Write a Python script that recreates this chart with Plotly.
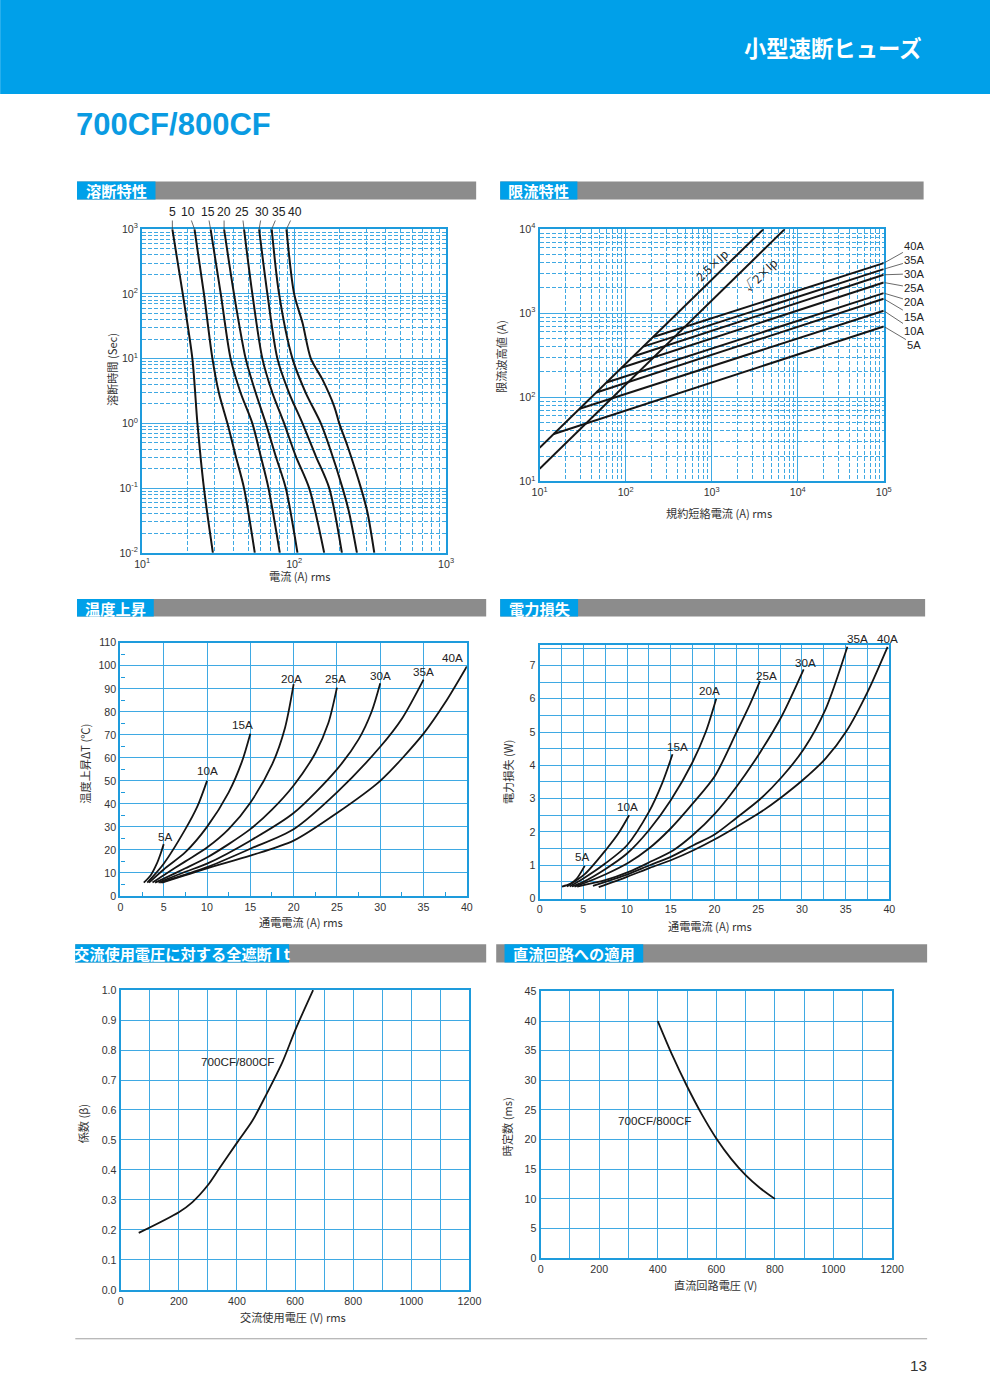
import numpy as np
import plotly.graph_objects as go

# Page pixels below are measured on the 990x1400 reference.  Measured on the
# previous photographs, the figure shows up shifted by the 8px body margin and
# scaled by about 0.978 x 0.991, so positions are converted through that map.
PAGE_W, PAGE_H = 990, 1400
OFF = 8
SX, SY = 0.978, 0.991
FS = 1.0 / 0.985          # font compensation for the photo scaling
W = int(round(PAGE_W / SX - OFF))
H = int(round(PAGE_H / SY - OFF))

BLUE = "#00A0E9"
GRID = "#3FA9E3"
FRAME = "#1E9BDC"
GRAY = "#8C8C8C"
TXT = "#333333"
CURVE = "#151515"
NUMFONT = "Liberation Sans, Arial, Noto Sans CJK JP, sans-serif"
JPFONT = "Noto Sans CJK JP, sans-serif"

# ---------------- data: 溶断特性 (melting time vs current) ----------------
melt_labels = ["5", "10", "15", "20", "25", "30", "35", "40"]
melt_5_t = [1000, 100, 10, 1, 0.1, 0.01]
melt_5_i = [15.8, 18.5, 21.4, 23.1, 25.5, 29.2]
melt_10_t = [1000, 100, 10, 2.94, 1, 0.31, 0.1, 0.01]
melt_10_i = [22.1, 25.5, 29.0, 32.0, 36.4, 41.3, 46.8, 55.1]
melt_15_t = [1000, 100, 10, 2.94, 1, 0.31, 0.1, 0.01]
melt_15_i = [28.2, 32.9, 38.2, 44.5, 53.1, 60.3, 67.8, 80.5]
melt_20_t = [1000, 100, 10, 2.94, 1, 0.31, 0.1, 0.01]
melt_20_i = [34.6, 40.2, 48.0, 55.9, 65.1, 75.7, 88.1, 105.2]
melt_25_t = [1000, 100, 10, 2.94, 1, 0.31, 0.1, 0.01]
melt_25_i = [46.8, 53.1, 61.8, 72.0, 85.9, 102.6, 125.6, 157.7]
melt_30_t = [1000, 100, 10, 2.94, 1, 0.31, 0.1, 0.01]
melt_30_i = [58.8, 66.7, 77.6, 92.7, 113.5, 139.0, 170.2, 206.2]
melt_35_t = [1000, 100, 10, 2.94, 1, 0.443, 0.1, 0.041, 0.01]
melt_35_i = [71.2, 79.6, 97.5, 119.4, 149.9, 170.2, 208.3, 230.5, 259.0]
melt_40_t = [1000, 100, 35.8, 10, 4.73, 1.83, 1, 0.443, 0.1, 0.041, 0.01]
melt_40_i = [89.0, 100, 113.5, 128.8, 153.8, 183.5, 198.1, 224.7, 275.3, 304.5, 336.9]
melt_label_dx = [0, -6, -3, 0, -2, 3, 7, 8]

# ---------------- data: 限流特性 (let-through peak) ----------------
ip25_i = [10, 4000]
ip25_peak = [25, 10000]
ipr2_i = [10, 7071]
ipr2_peak = [14.1, 10000]
lim_labels = ["5A", "10A", "15A", "20A", "25A", "30A", "35A", "40A"]
lim_start_i = [14.6, 29.2, 45.7, 59.8, 89.4, 122.2, 159.9, 209.0]
lim_start_peak = [36.5, 73, 114, 150, 224, 306, 400, 522]
lim_end_i = 100000
lim_end_peak = [696, 1069, 1485, 1734, 2321, 2864, 3344, 3942]
lim_label_dy = [18, 20, 18, 9, 5.5, -1, -9, -17]

# ---------------- data: 温度上昇 ----------------
temp_labels = ["5A", "10A", "15A", "20A", "25A", "30A", "35A", "40A"]
temp_x = [
    [2.7, 3.5, 4.2, 4.7, 5.0],
    [3.1, 5.0, 7.5, 8.9, 10.0],
    [3.3, 5.0, 7.5, 10.0, 12.5, 14.0, 15.0],
    [3.7, 5.0, 7.5, 10.0, 12.5, 15.0, 17.5, 19.0, 20.0],
    [4.0, 5.0, 7.5, 10.0, 12.5, 15.0, 17.5, 20.0, 22.5, 24.0, 25.0],
    [4.4, 7.5, 10.0, 15.0, 20.0, 25.0, 27.5, 29.0, 30.0],
    [4.6, 10.0, 15.0, 20.0, 25.0, 30.0, 32.5, 35.0],
    [4.8, 10.0, 15.0, 20.0, 25.0, 30.0, 35.0, 37.5, 40.0],
]
temp_y = [
    [5.8, 9.0, 14.0, 19.0, 22.5],
    [5.8, 14.0, 29.0, 39.0, 50.0],
    [5.8, 11.5, 19.0, 30.0, 45.0, 58.0, 70.5],
    [5.8, 9.0, 15.0, 21.0, 29.0, 40.5, 57.0, 73.0, 92.0],
    [5.8, 7.5, 12.0, 16.7, 22.5, 29.0, 37.5, 48.0, 62.0, 75.0, 90.5],
    [5.8, 10.5, 14.0, 24.0, 36.0, 55.0, 68.0, 80.0, 92.4],
    [5.8, 12.5, 20.5, 29.0, 45.0, 64.8, 77.0, 94.0],
    [5.8, 12.0, 17.5, 24.0, 36.0, 50.0, 70.5, 84.0, 99.7],
]
temp_lab_x = [5.2, 10.0, 14.1, 19.8, 24.8, 30.0, 35.0, 38.3]
temp_lab_y = [25.6, 54.7, 74.5, 94.6, 94.3, 95.8, 97.3, 103.4]

# ---------------- data: 電力損失 ----------------
loss_labels = ["5A", "10A", "15A", "20A", "25A", "30A", "35A", "40A"]
loss_x = [
    [2.56, 3.5, 4.2, 5.16],
    [3.13, 5.16, 7.64, 9.0, 10.24],
    [3.44, 5.0, 7.5, 10.0, 12.5, 14.0, 15.2],
    [3.7, 5.0, 7.5, 10.0, 12.5, 15.0, 17.5, 19.0, 20.2],
    [4.0, 5.0, 7.5, 10.2, 12.5, 14.9, 17.6, 20.05, 22.5, 24.0, 25.2],
    [4.3, 7.5, 10.2, 12.5, 15.3, 17.5, 20.05, 22.5, 25.2, 27.7, 30.2],
    [6.1, 10.0, 12.6, 15.0, 17.6, 20.05, 22.5, 25.2, 27.7, 30.2, 32.7, 35.2],
    [6.76, 10.0, 12.6, 15.0, 17.6, 20.05, 22.5, 25.2, 27.7, 30.2, 32.7, 35.1, 37.5, 39.8],
]
loss_y = [
    [0.36, 0.44, 0.58, 0.98],
    [0.36, 0.73, 1.48, 1.95, 2.5],
    [0.36, 0.6, 1.05, 1.6, 2.6, 3.45, 4.33],
    [0.36, 0.5, 0.88, 1.35, 2.05, 2.95, 4.1, 5.0, 6.0],
    [0.36, 0.45, 0.72, 1.08, 1.5, 2.08, 2.88, 3.68, 4.98, 5.8, 6.53],
    [0.36, 0.55, 0.8, 1.08, 1.45, 1.9, 2.55, 3.35, 4.38, 5.48, 6.88],
    [0.38, 0.72, 1.0, 1.25, 1.6, 1.93, 2.42, 2.98, 3.65, 4.48, 5.68, 7.56],
    [0.34, 0.65, 0.92, 1.15, 1.45, 1.78, 2.15, 2.58, 3.05, 3.58, 4.2, 5.03, 6.2, 7.56],
]
loss_lab_x = [4.9, 10.05, 15.8, 19.4, 25.9, 30.4, 36.4, 39.8]
loss_lab_y = [1.26, 2.77, 4.56, 6.26, 6.7, 7.1, 7.82, 7.82]

# ---------------- data: 交流使用電圧に対する全遮断 I t ----------------
ac_v = [62, 200, 246, 303, 338, 401, 453, 499, 556, 602, 662]
ac_beta = [0.19, 0.259, 0.292, 0.353, 0.403, 0.492, 0.564, 0.648, 0.759, 0.870, 1.0]

# ---------------- data: 直流回路への適用 ----------------
dc_v = [400, 450, 500, 550, 600, 650, 700, 750, 800]
dc_tau = [40, 34.2, 29.0, 24.3, 20.2, 16.8, 14.0, 11.8, 10.0]


# ---------------- helpers (page pixels -> paper fractions) ----------------
def px(x):
    return (x / SX - OFF) / W


def py(y):
    return 1 - (y / SY - OFF) / H


def dom(x0, x1, y0, y1):
    return [px(x0), px(x1)], [py(y1), py(y0)]


def fs(size):
    return round(size * FS, 2)


tickfont = dict(family=NUMFONT, size=fs(10.5), color=TXT)


def base_axis(domain, anchor):
    return dict(domain=domain, anchor=anchor, showline=True, mirror=True,
                linecolor=FRAME, linewidth=2.2, showgrid=True, gridcolor=GRID,
                gridwidth=1, zeroline=False, ticks="", tickfont=tickfont,
                fixedrange=True)


fig = go.Figure()

# ---- chart 1 traces ----
melt_t = [melt_5_t, melt_10_t, melt_15_t, melt_20_t, melt_25_t, melt_30_t, melt_35_t, melt_40_t]
melt_i = [melt_5_i, melt_10_i, melt_15_i, melt_20_i, melt_25_i, melt_30_i, melt_35_i, melt_40_i]
for ii, tt in zip(melt_i, melt_t):
    fig.add_trace(go.Scatter(x=ii, y=tt, xaxis="x", yaxis="y", mode="lines",
                             line=dict(color=CURVE, width=2, shape="spline", smoothing=0.8),
                             showlegend=False, hoverinfo="skip"))

# ---- chart 2 traces ----
fig.add_trace(go.Scatter(x=ip25_i, y=ip25_peak, xaxis="x2", yaxis="y2", mode="lines",
                         line=dict(color=CURVE, width=2), showlegend=False, hoverinfo="skip"))
fig.add_trace(go.Scatter(x=ipr2_i, y=ipr2_peak, xaxis="x2", yaxis="y2", mode="lines",
                         line=dict(color=CURVE, width=2), showlegend=False, hoverinfo="skip"))
for si, sp, ep in zip(lim_start_i, lim_start_peak, lim_end_peak):
    fig.add_trace(go.Scatter(x=[si, lim_end_i], y=[sp, ep], xaxis="x2", yaxis="y2", mode="lines",
                             line=dict(color=CURVE, width=2), showlegend=False, hoverinfo="skip"))

# ---- chart 3 traces ----
for xs, ys in zip(temp_x, temp_y):
    fig.add_trace(go.Scatter(x=xs, y=ys, xaxis="x3", yaxis="y3", mode="lines",
                             line=dict(color=CURVE, width=1.8, shape="spline", smoothing=0.8),
                             showlegend=False, hoverinfo="skip"))

# ---- chart 4 traces ----
for xs, ys in zip(loss_x, loss_y):
    fig.add_trace(go.Scatter(x=xs, y=ys, xaxis="x4", yaxis="y4", mode="lines",
                             line=dict(color=CURVE, width=1.8, shape="spline", smoothing=0.8),
                             showlegend=False, hoverinfo="skip"))

# ---- chart 5/6 traces ----
fig.add_trace(go.Scatter(x=ac_v, y=ac_beta, xaxis="x5", yaxis="y5", mode="lines",
                         line=dict(color=CURVE, width=1.8, shape="spline", smoothing=0.8),
                         showlegend=False, hoverinfo="skip"))
fig.add_trace(go.Scatter(x=dc_v, y=dc_tau, xaxis="x6", yaxis="y6", mode="lines",
                         line=dict(color=CURVE, width=1.8, shape="spline", smoothing=0.8),
                         showlegend=False, hoverinfo="skip"))

# ---------------- axes ----------------
d1x, d1y = dom(141.7, 445, 229.3, 553.3)
d2x, d2y = dom(538.3, 881.7, 229.3, 481.7)
d3x, d3y = dom(120, 465.7, 643.3, 896.7)
d4x, d4y = dom(538.3, 887.3, 646, 899.3)
d5x, d5y = dom(120.3, 468.3, 991, 1291)
d6x, d6y = dom(539.3, 890, 992.3, 1259.3)

sup = lambda e: "10<sup>%s</sup>" % e
minor_dash = dict(showgrid=True, gridcolor=GRID, griddash="4px,2px", gridwidth=1, ticks="")

x1_minor = [m * 10 ** d for d in (1, 2) for m in range(2, 10)]
y1_minor = [m * 10.0 ** d for d in (-2, -1, 0, 1, 2) for m in range(2, 10)]
x2_minor = [m * 10 ** d for d in (1, 2, 3, 4) for m in range(2, 10)]
y2_minor = [m * 10 ** d for d in (1, 2, 3) for m in range(2, 10)]

ax1x = base_axis(d1x, "y")
ax1x.update(type="log", range=[1, 3], tickmode="array", tickvals=[10, 100, 1000],
            ticktext=[sup(1), sup(2), sup(3)],
            minor=dict(tickmode="array", tickvals=x1_minor, **minor_dash))
ax1y = base_axis(d1y, "x")
ax1y.update(type="log", range=[-2, 3], tickmode="array",
            tickvals=[0.01, 0.1, 1, 10, 100, 1000],
            ticktext=[sup("-2"), sup("-1"), sup(0), sup(1), sup(2), sup(3)],
            minor=dict(tickmode="array", tickvals=y1_minor, **minor_dash))

ax2x = base_axis(d2x, "y2")
ax2x.update(type="log", range=[1, 5], tickmode="array", tickvals=[10, 100, 1000, 1e4, 1e5],
            ticktext=[sup(1), sup(2), sup(3), sup(4), sup(5)],
            minor=dict(tickmode="array", tickvals=x2_minor, **minor_dash))
ax2y = base_axis(d2y, "x2")
ax2y.update(type="log", range=[1, 4], tickmode="array", tickvals=[10, 100, 1000, 1e4],
            ticktext=[sup(1), sup(2), sup(3), sup(4)],
            minor=dict(tickmode="array", tickvals=y2_minor, **minor_dash))

ax3x = base_axis(d3x, "y3")
ax3x.update(range=[0, 40], tick0=0, dtick=5,
            minor=dict(dtick=2.5, ticks="inside", ticklen=4, tickcolor=FRAME, tickwidth=1.2, showgrid=False))
ax3y = base_axis(d3y, "x3")
ax3y.update(range=[0, 110], tick0=0, dtick=10,
            minor=dict(dtick=5, ticks="inside", ticklen=4, tickcolor=FRAME, tickwidth=1.2, showgrid=False))

minor_solid = lambda d: dict(dtick=d, showgrid=True, gridcolor=GRID, gridwidth=1, ticks="")
ax4x = base_axis(d4x, "y4")
ax4x.update(range=[0, 40], tick0=0, dtick=5, minor=minor_solid(2.5))
ax4y = base_axis(d4y, "x4")
ax4y.update(range=[0, 7.6], tick0=0, dtick=1, minor=minor_solid(0.5))

ax5x = base_axis(d5x, "y5")
ax5x.update(range=[0, 1200], tick0=0, dtick=200, minor=minor_solid(100))
ax5y = base_axis(d5y, "x5")
ax5y.update(range=[0, 1.0], tick0=0, dtick=0.1, tickformat=".1f")

ax6x = base_axis(d6x, "y6")
ax6x.update(range=[0, 1200], tick0=0, dtick=200, minor=minor_solid(100))
ax6y = base_axis(d6y, "x6")
ax6y.update(range=[0, 45], tick0=0, dtick=5)

# ---------------- decorations ----------------
shapes = []
annotations = []

# header band
shapes.append(dict(type="rect", xref="paper", yref="paper", x0=px(0), x1=px(990), y0=py(94), y1=py(0),
                   fillcolor=BLUE, line=dict(width=0), layer="below"))
annotations.append(dict(xref="paper", yref="paper", x=px(922), y=py(47), xanchor="right", yanchor="middle",
                        text="<b>小型速断ヒューズ</b>", showarrow=False,
                        font=dict(family=JPFONT, size=fs(22), color="white")))
annotations.append(dict(xref="paper", yref="paper", x=px(74), y=py(125), xanchor="left", yanchor="middle",
                        text="<b>700CF/800CF</b>", showarrow=False,
                        font=dict(family="Liberation Sans, Arial, sans-serif", size=31, color="#0A9BE2")))

# section header bars: (text, blue x0, blue x1, gray x0, gray x1, y0, y1)
sections = [
    ("溶断特性", 76.7, 155, 76.7, 475, 181.5, 199.5),
    ("限流特性", 499, 576, 499, 921.5, 181.5, 199.5),
    ("温度上昇", 76.7, 153.3, 76.7, 485, 599.5, 617),
    ("電力損失", 499, 576.7, 499, 923, 599.5, 617),
    ("交流使用電圧に対する全遮断 I t", 75, 288.3, 75, 485, 945, 963.3),
    ("直流回路への適用", 503.3, 641.7, 495, 925, 945, 963.3),
]
for text, bx0, bx1, gx0, gx1, y0, y1 in sections:
    shapes.append(dict(type="rect", xref="paper", yref="paper", x0=px(gx0), x1=px(gx1), y0=py(y1), y1=py(y0),
                       fillcolor=GRAY, line=dict(width=0), layer="below"))
    shapes.append(dict(type="rect", xref="paper", yref="paper", x0=px(bx0), x1=px(bx1), y0=py(y1), y1=py(y0),
                       fillcolor=BLUE, line=dict(width=0), layer="below"))
    annotations.append(dict(xref="paper", yref="paper", x=px((bx0 + bx1) / 2), y=py((y0 + y1) / 2),
                            xanchor="center", yanchor="middle", text="<b>%s</b>" % text, showarrow=False,
                            font=dict(family=JPFONT, size=fs(15), color="white")))

# bottom rule and page number
shapes.append(dict(type="line", xref="paper", yref="paper", x0=px(75), x1=px(925), y0=py(1340), y1=py(1340),
                   line=dict(color="#A0A0A0", width=1)))
annotations.append(dict(xref="paper", yref="paper", x=px(927), y=py(1367), xanchor="right", yanchor="middle",
                        text="13", showarrow=False, font=dict(family=NUMFONT, size=fs(15), color=TXT)))

# axis titles
titles = [
    ("溶断時間 (Sec)", 111, 370, -90),
    ("電流 (A) rms", 299, 576, 0),
    ("限流波高値 (A)", 500, 357, -90),
    ("規約短絡電流 (A) rms", 717, 513.5, 0),
    ("温度上昇ΔT (℃)", 85, 764, -90),
    ("通電電流 (A) rms", 300, 922.5, 0),
    ("電力損失 (W)", 507.5, 773, -90),
    ("通電電流 (A) rms", 708.5, 926.5, 0),
    ("係数 (β)", 83, 1125, -90),
    ("交流使用電圧 (V) rms", 292.5, 1318.5, 0),
    ("時定数 (ms)", 506, 1128, -90),
    ("直流回路電圧 (V)", 713.5, 1286, 0),
]
for text, x, y, ang in titles:
    annotations.append(dict(xref="paper", yref="paper", x=px(x), y=py(y), xanchor="center", yanchor="middle",
                            text=text, showarrow=False, textangle=ang,
                            font=dict(family=JPFONT, size=fs(11), color=TXT)))

# chart 1 rating labels with leader lines
for lab, ii, dx in zip(melt_labels, melt_i, melt_label_dx):
    annotations.append(dict(xref="x", yref="y", x=np.log10(ii[0]), y=3, text=lab, showarrow=True,
                            arrowhead=0, arrowwidth=0.8, arrowcolor="#444", ax=dx / SX, ay=-17 / SY,
                            standoff=0, font=dict(family=NUMFONT, size=fs(12), color="#222")))

# chart 2 rating labels
for lab, ep, dy in zip(lim_labels, lim_end_peak, lim_label_dy):
    annotations.append(dict(xref="x2", yref="y2", x=5, y=np.log10(ep), text=lab, showarrow=True,
                            arrowhead=0, arrowwidth=0.8, arrowcolor="#444", ax=30 / SX, ay=dy / SY,
                            standoff=1, font=dict(family=NUMFONT, size=fs(11), color="#222")))
annotations.append(dict(xref="x2", yref="y2", x=3.0, y=3.58, text="2.5×Ip", showarrow=False,
                        textangle=-44, font=dict(family=JPFONT, size=fs(11.5), color="#222")))
annotations.append(dict(xref="x2", yref="y2", x=3.56, y=3.46, text="√2×Ip", showarrow=False,
                        textangle=-44, font=dict(family=JPFONT, size=fs(11.5), color="#222")))

# chart 3 labels
for lab, x, y in zip(temp_labels, temp_lab_x, temp_lab_y):
    annotations.append(dict(xref="x3", yref="y3", x=x, y=y, text=lab, showarrow=False,
                            font=dict(family=NUMFONT, size=fs(11.5), color="#222")))
# chart 4 labels (x in data units; y placed via the axis domain so labels above the frame stay visible)
y4_lo, y4_hi = d4y
for lab, x, y in zip(loss_labels, loss_lab_x, loss_lab_y):
    annotations.append(dict(xref="x4", yref="paper", x=x, y=y4_lo + (y4_hi - y4_lo) * y / 7.6,
                            text=lab, showarrow=False,
                            font=dict(family=NUMFONT, size=fs(11.5), color="#222")))
# chart 5/6 labels
annotations.append(dict(xref="x5", yref="y5", x=401, y=0.761, text="700CF/800CF", showarrow=False,
                        font=dict(family=NUMFONT, size=fs(11.5), color="#222")))
annotations.append(dict(xref="x6", yref="y6", x=390, y=23.2, text="700CF/800CF", showarrow=False,
                        font=dict(family=NUMFONT, size=fs(11.5), color="#222")))

fig.update_layout(
    width=W, height=H, autosize=False,
    margin=dict(l=0, r=0, t=0, b=0),
    paper_bgcolor="white", plot_bgcolor="white",
    showlegend=False,
    xaxis=ax1x, yaxis=ax1y,
    xaxis2=ax2x, yaxis2=ax2y,
    xaxis3=ax3x, yaxis3=ax3y,
    xaxis4=ax4x, yaxis4=ax4y,
    xaxis5=ax5x, yaxis5=ax5y,
    xaxis6=ax6x, yaxis6=ax6y,
    shapes=shapes,
    annotations=annotations,
    font=dict(family=NUMFONT, color=TXT),
)

fig.write_html("out.html")
